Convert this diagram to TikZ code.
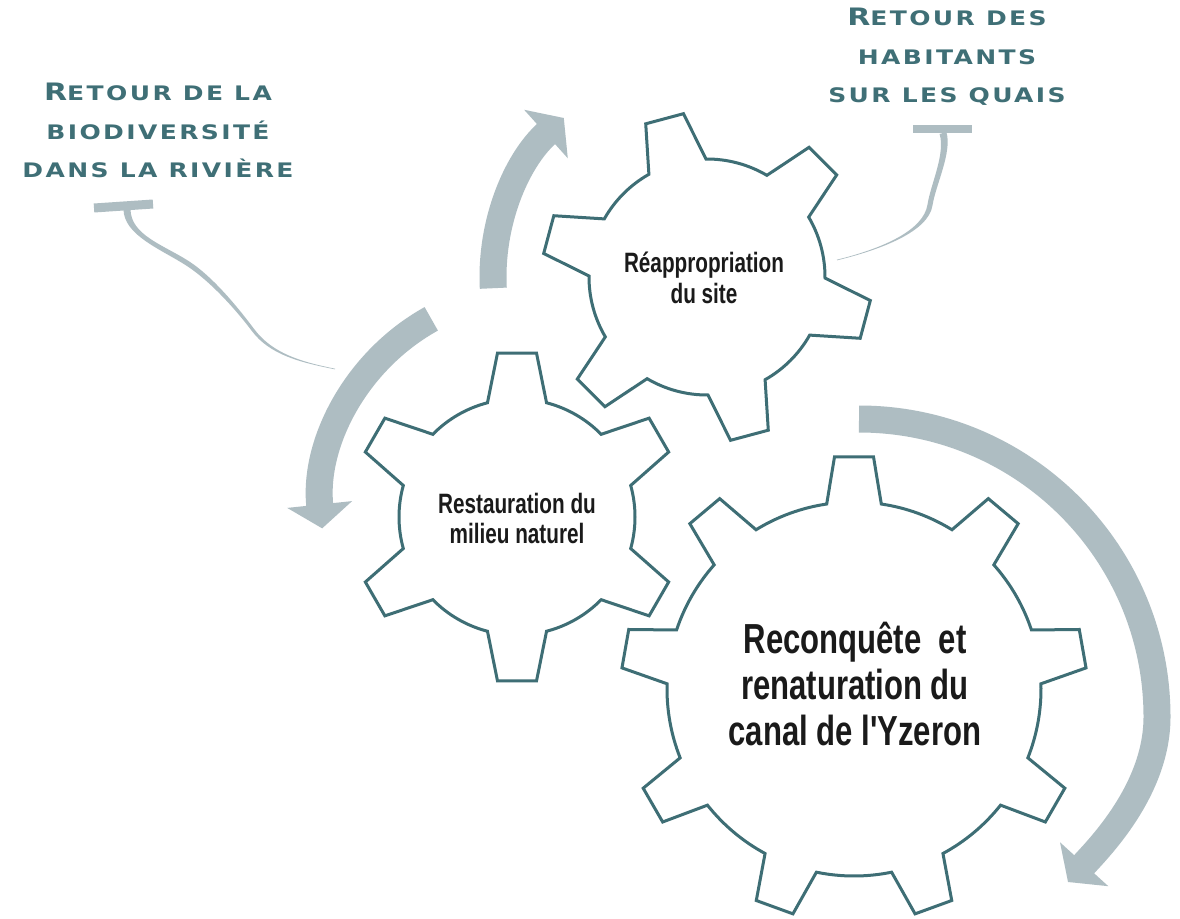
\documentclass[tikz,border=0pt]{standalone}
\usepackage{fontspec}
\usetikzlibrary{arrows.meta}
\newfontfamily\lblfont[LetterSpace=12,FakeStretch=1.25]{DejaVu Sans}
\newfontfamily\gearfont[FakeStretch=0.74]{Liberation Sans}
\definecolor{gearteal}{HTML}{3E6E75}
\definecolor{arrowgray}{HTML}{AEBDC2}
\definecolor{labelteal}{HTML}{3F6F76}
\definecolor{gtextc}{HTML}{1A1A1A}
\newcommand{\bigc}[1]{{\fontsize{24}{24}\selectfont #1}}
\newcommand{\drawgear}[7]{%
  \begin{scope}[shift={(#1)}]
    \draw[gearline] ({#3-#7}:#5)
      \foreach \k in {1,...,#2}{
        -- ({#3+(\k-1)*360/#2-#7}:#5)
        -- ({#3+(\k-1)*360/#2-#6}:#4)
        -- ({#3+(\k-1)*360/#2+#6}:#4)
        -- ({#3+(\k-1)*360/#2+#7}:#5)
        arc[start angle={#3+(\k-1)*360/#2+#7}, end angle={#3+\k*360/#2-#7}, radius=#5]
      } -- cycle;
  \end{scope}}
\tikzset{
  gearline/.style={draw=gearteal, line width=3pt, fill=white},
  cyclearrow/.style={draw=arrowgray, line width=27pt, -{Triangle[length=24pt, width=64pt]}},
  tbar/.style={draw=arrowgray, line width=9pt},
  stem/.style={fill=arrowgray, draw=none},
  lbl/.style={text=labelteal, align=center, inner sep=0pt, anchor=north,
    font=\lblfont\bfseries\fontsize{20}{38.6}\selectfont},
  gtext/.style={text=gtextc, align=center, inner sep=0pt, anchor=north},
}
\begin{document}
\begin{tikzpicture}[x=1pt, y=1pt]
\useasboundingbox (0,0) rectangle (1180,-918);
\fill[white] (0,0) rectangle (1180,-918);
\clip (0,0) rectangle (1180,-918);

% centres
\coordinate (g1) at (517,-517);
\coordinate (g2) at (707,-277);
\coordinate (g3) at (854,-689);
\coordinate (cA) at (535,-506);
\coordinate (cB) at (707,-277);
\coordinate (cC) at (859,-717);

% cycle arrows
\draw[cyclearrow] ([shift={(119:214)}]cA) arc[start angle=119, end angle=186, radius=214];
\draw[cyclearrow] ([shift={(183:214)}]cB) arc[start angle=183, end angle=132, radius=214];
\coordinate (cCend) at (1068,-882);
\draw[cyclearrow] ([shift={(90:298)}]cC) arc[start angle=90, end angle=0, radius=298]
  .. controls +(0,-73) and (1098,-849) .. (cCend);

% gears
\drawgear{g1}{6}{90}{165}{118}{6.8}{14.5}
\drawgear{g2}{6}{105}{165}{118}{6.8}{14.5}
\drawgear{g3}{9}{90}{233}{187}{4.8}{8.4}

% gear texts
\node[gtext, font=\gearfont\bfseries\fontsize{28}{30}\selectfont] (t1) at (517,-493)
  {Restauration du\\milieu naturel};
\node[gtext, font=\gearfont\bfseries\fontsize{28}{31}\selectfont] (t2) at (704,-252)
  {Réappropriation\\du site};
\node[gtext, font=\gearfont\bfseries\fontsize{42}{46}\selectfont] (t3) at (855,-622)
  {Reconquête~ et\\renaturation du\\canal de l'Yzeron};

% labels
\node[lbl] (lab1) at (158,-83) {{\bigc R}ETOUR DE LA\\BIODIVERSITÉ\\DANS LA RIVIÈRE};
\node[lbl] (lab2) at (947,-8) {{\bigc R}ETOUR DES\\HABITANTS\\SUR LES QUAIS};

% T connectors
\coordinate (bar1a) at (94,-208);
\coordinate (bar1b) at (153,-204);
\coordinate (bar2a) at (913,-129);
\coordinate (bar2b) at (972,-129);
\fill[stem] (130.5,-209) .. controls (130.5,-235) and (163.4,-244.9) .. (188.4,-260.9)
  .. controls (213.4,-276.9) and (239.2,-309.1) .. (254.2,-329.1)
  .. controls (272.2,-353.1) and (300.1,-361.7) .. (335.1,-368.7)
  -- (334.9,-369.3)
  .. controls (299.9,-362.3) and (269.8,-354.9) .. (251.8,-330.9)
  .. controls (236.8,-310.9) and (210.6,-281.1) .. (185.6,-265.1)
  .. controls (160.6,-249.1) and (123.5,-235) .. (123.5,-209) -- cycle;
\draw[tbar] (bar1a) -- (bar1b);
\fill[stem] (946.4,-132) .. controls (952.4,-152) and (935.5,-185.4) .. (932.5,-205.4)
  .. controls (928.5,-231.4) and (882.1,-249.3) .. (837.1,-260.3)
  -- (836.9,-259.7)
  .. controls (881.9,-248.7) and (923.5,-230.6) .. (927.5,-204.6)
  .. controls (930.5,-184.6) and (945.6,-154) .. (939.6,-134) -- cycle;
\draw[tbar, line width=8pt] (bar2a) -- (bar2b);
\end{tikzpicture}
\end{document}
